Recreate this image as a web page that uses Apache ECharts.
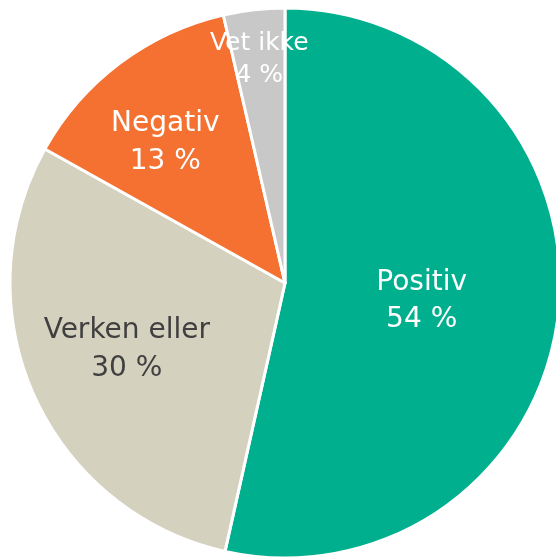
<!DOCTYPE html>
<html>
<head>
<meta charset="utf-8">
<script src="https://cdn.jsdelivr.net/npm/echarts@6/dist/echarts.min.js"></script>
<style>
  html, body { margin: 0; padding: 0; background: #fff; }
  #chart { width: 556px; height: 557px; }
</style>
</head>
<body>
<div id="chart"></div>
<script>
// svarkategorier og andeler (prosent)
const categories = ['Positiv', 'Verken eller', 'Negativ', 'Vet ikke'];
const values = [53.5, 29.6, 13.3, 3.6];
const colors = ['#00af8e', '#d5d1bf', '#f47132', '#c8c8c8'];
const labelColors = ['#ffffff', '#404040', '#ffffff', '#ffffff'];
// etikettplassering: andel av radius og vinkeljustering (grader)
const labelDist = [0.50, 0.62, 0.68, 0.83];
const labelTurn = [0, 2.2, -2.9, 0];
const labelSize = [28, 28, 28, 25];
const labelLine = [37, 38, 38, 32];

const cx = 285, cy = 283, r = 275;
const total = values.reduce((a, b) => a + b, 0);

// midtvinkel for hver sektor, med klokka fra toppen
const midAngles = [];
let acc = 0;
values.forEach((v, i) => {
  midAngles.push((acc + v / 2) / total * Math.PI * 2 + labelTurn[i] * Math.PI / 180);
  acc += v;
});

const chart = echarts.init(document.getElementById('chart'));
chart.setOption({
  animation: false,
  series: [{
    type: 'pie',
    center: [cx, cy],
    radius: [0, r],
    startAngle: 90,
    clockwise: true,
    avoidLabelOverlap: false,
    itemStyle: { borderColor: '#fff', borderWidth: 3 },
    label: {
      show: true,
      position: 'inside',
      fontFamily: 'DejaVu Sans',
      align: 'center',
      verticalAlign: 'middle',
      formatter: p => p.name + '\n' + Math.round(p.value) + ' %'
    },
    labelLine: { show: false },
    labelLayout: p => {
      const i = p.dataIndex;
      const a = midAngles[i];
      return {
        x: cx + Math.sin(a) * r * labelDist[i],
        y: cy - Math.cos(a) * r * labelDist[i] + 3,
        align: 'center',
        verticalAlign: 'middle'
      };
    },
    emphasis: { disabled: true },
    data: categories.map((c, i) => ({
      name: c,
      value: values[i],
      itemStyle: { color: colors[i] },
      label: { color: labelColors[i], fontSize: labelSize[i], lineHeight: labelLine[i] }
    }))
  }]
});
</script>
</body>
</html>
